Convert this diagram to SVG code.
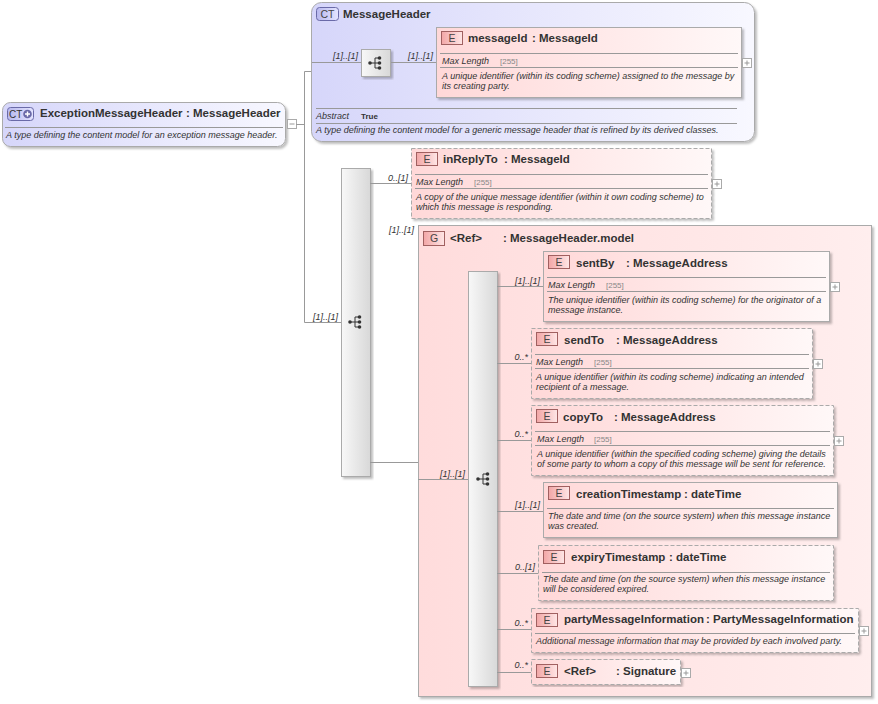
<svg xmlns="http://www.w3.org/2000/svg" width="878" height="704" viewBox="0 0 878 704">
<defs>
<linearGradient id="gCT" x1="0" y1="0" x2="1" y2="0"><stop offset="0" stop-color="#d6d6fa"/><stop offset="1" stop-color="#f8f8ff"/></linearGradient>
<linearGradient id="gEl" x1="0" y1="0" x2="1" y2="0"><stop offset="0" stop-color="#ffd8d8"/><stop offset="1" stop-color="#fff8f8"/></linearGradient>
<linearGradient id="gGrp" x1="0" y1="0" x2="1" y2="0"><stop offset="0" stop-color="#ffdcdc"/><stop offset="1" stop-color="#ffeeee"/></linearGradient>
<linearGradient id="gSeq" x1="0" y1="0" x2="1" y2="0"><stop offset="0" stop-color="#f8f8f8"/><stop offset="1" stop-color="#d8d8d8"/></linearGradient>
<linearGradient id="gEb" x1="0" y1="0" x2="1" y2="0"><stop offset="0" stop-color="#f2a6a6"/><stop offset="1" stop-color="#ffe6e6"/></linearGradient>
<linearGradient id="gCb" x1="0" y1="0" x2="1" y2="0"><stop offset="0" stop-color="#b8b8ee"/><stop offset="1" stop-color="#e4e4ff"/></linearGradient>
<filter id="sh" x="-5%" y="-5%" width="115%" height="115%"><feDropShadow dx="2" dy="2" stdDeviation="1" flood-color="#000" flood-opacity="0.25"/></filter>
<g id="seqIcon" fill="#333" stroke="#333" stroke-width="1">
<line x1="-6" y1="0" x2="-1" y2="0"/><line x1="-1" y1="-5" x2="-1" y2="5"/>
<line x1="-1" y1="-5" x2="3" y2="-5"/><line x1="-1" y1="5" x2="3" y2="5"/><line x1="-1" y1="0" x2="3" y2="0"/>
<circle cx="-6" cy="0" r="1.8" stroke="none"/><circle cx="3.5" cy="-5" r="1.8" stroke="none"/><circle cx="3.5" cy="0" r="1.8" stroke="none"/><circle cx="3.5" cy="5" r="1.8" stroke="none"/>
</g>
<g id="plus"><rect x="0.5" y="0.5" width="9" height="9" fill="#fff" stroke="#aaa"/><path d="M2.5 5H7.5M5 2.5V7.5" stroke="#999" fill="none"/></g>
<g id="eb"><rect x="0.5" y="0.5" width="21" height="13" fill="url(#gEb)" stroke="#a06060"/><text x="11" y="11" class="bt">E</text></g>
</defs>
<style>
text{font-family:"Liberation Sans",Arial,sans-serif;fill:#333}
.t{font-size:11.5px;font-weight:bold}
.bt{font-size:10.5px;text-anchor:middle;fill:#444}
.d{font-size:9px;font-style:italic}
.l{font-size:9px;font-style:italic;text-anchor:end}
.g{font-size:8px;fill:#888}
.ab{font-size:8px;font-weight:bold}
.el{fill:url(#gEl);stroke:#aaa;filter:url(#sh)}
.dash{stroke-dasharray:4 2}
.sep{stroke:#999;fill:none}
.seq{fill:url(#gSeq);stroke:#aaa;filter:url(#sh)}
.con{stroke:#999;fill:none}
</style>

<g id="ExceptionMessageHeader">
<rect x="2.5" y="102.5" width="283" height="44" rx="8" fill="url(#gCT)" stroke="#aaa" filter="url(#sh)"/>
<rect x="7.5" y="107.5" width="26" height="13" rx="3" fill="url(#gCb)" stroke="#6a6aa8"/>
<text x="9" y="118" style="font-size:10px;fill:#333">CT</text>
<circle cx="27.5" cy="114" r="4.3" fill="#6a6aa8"/>
<path d="M25 114H30M27.5 111.5V116.5" stroke="#fff" stroke-width="1.4"/>
<text class="t" x="40" y="117">ExceptionMessageHeader</text>
<text class="t" x="186" y="117">: MessageHeader</text>
<line class="sep" x1="5" y1="127.5" x2="283" y2="127.5"/>
<text class="d" x="6" y="138">A type defining the content model for an exception message header.</text>
<rect x="287.5" y="119.5" width="9" height="9" fill="#fff" stroke="#aaa"/>
<path d="M289.5 124H294.5" stroke="#999"/>
</g>

<g id="MessageHeader">
<rect x="311.5" y="2.5" width="443" height="139" rx="10" fill="url(#gCT)" stroke="#aaa" filter="url(#sh)"/>
<rect x="316.5" y="7.5" width="22" height="13" rx="3" fill="url(#gCb)" stroke="#6a6aa8"/>
<text x="327.5" y="18" class="bt">CT</text>
<text class="t" x="343" y="18">MessageHeader</text>
<rect class="seq" x="361.5" y="49.5" width="29" height="27"/>
<use href="#seqIcon" x="376" y="63"/>
<line class="sep" x1="316" y1="108.5" x2="737" y2="108.5"/>
<text class="d" x="316" y="119">Abstract</text>
<text class="ab" x="361" y="119">True</text>
<line class="sep" x1="316" y1="123.5" x2="737" y2="123.5"/>
<text class="d" x="316" y="133">A type defining the content model for a generic message header that is refined by its derived classes.</text>
</g>

<g id="messageId">
<rect class="el" x="436.5" y="27.5" width="305" height="70"/>
<use href="#eb" x="441" y="31"/>
<text class="t" x="468" y="42">messageId</text><text class="t" x="532" y="42">: MessageId</text>
<line class="sep" x1="440" y1="53.5" x2="738" y2="53.5"/>
<text class="d" x="442" y="64">Max Length</text><text class="g" x="500" y="64">[255]</text>
<line class="sep" x1="440" y1="67.5" x2="738" y2="67.5"/>
<text class="d" x="442" y="79">A unique identifier (within its coding scheme) assigned to the message by</text>
<text class="d" x="442" y="89">its creating party.</text>
<use href="#plus" x="742" y="58"/>
</g>

<g id="seqOuter">
<rect class="seq" x="341.5" y="168.5" width="29" height="308"/>
<use href="#seqIcon" x="356" y="322"/>
</g>

<g id="inReplyTo">
<rect class="el dash" x="411.5" y="148.5" width="300" height="70"/>
<use href="#eb" x="416" y="152"/>
<text class="t" x="443" y="163">inReplyTo</text><text class="t" x="504" y="163">: MessageId</text>
<line class="sep" x1="415" y1="174.5" x2="708" y2="174.5"/>
<text class="d" x="416" y="185">Max Length</text><text class="g" x="474" y="185">[255]</text>
<line class="sep" x1="415" y1="188.5" x2="708" y2="188.5"/>
<text class="d" x="416" y="200">A copy of the unique message identifier (within it own coding scheme) to</text>
<text class="d" x="416" y="210">which this message is responding.</text>
<use href="#plus" x="712" y="179"/>
</g>

<g id="MessageHeader.model">
<rect x="418.5" y="225.5" width="453" height="471" fill="url(#gGrp)" stroke="#aaa" filter="url(#sh)"/>
<rect x="423.5" y="231.5" width="21" height="14" fill="url(#gEb)" stroke="#a06060"/>
<text x="434" y="242" class="bt">G</text>
<text class="t" x="450" y="242">&lt;Ref&gt;</text><text class="t" x="503" y="242">: MessageHeader.model</text>
<rect class="seq" x="468.5" y="271.5" width="29" height="415"/>
<use href="#seqIcon" x="484" y="479"/>
</g>

<g id="sentBy">
<rect class="el" x="543.5" y="251.5" width="286" height="70"/>
<use href="#eb" x="548" y="255"/>
<text class="t" x="576" y="267">sentBy</text><text class="t" x="626" y="267">: MessageAddress</text>
<line class="sep" x1="547" y1="277.5" x2="826" y2="277.5"/>
<text class="d" x="548" y="288">Max Length</text><text class="g" x="606" y="288">[255]</text>
<line class="sep" x1="547" y1="291.5" x2="826" y2="291.5"/>
<text class="d" x="548" y="303">The unique identifier (within its coding scheme) for the originator of a</text>
<text class="d" x="548" y="313">message instance.</text>
<use href="#plus" x="830" y="282"/>
</g>

<g id="sendTo">
<rect class="el dash" x="531.5" y="328.5" width="281" height="70"/>
<use href="#eb" x="536" y="332"/>
<text class="t" x="564" y="344">sendTo</text><text class="t" x="616" y="344">: MessageAddress</text>
<line class="sep" x1="535" y1="354.5" x2="809" y2="354.5"/>
<text class="d" x="536" y="365">Max Length</text><text class="g" x="594" y="365">[255]</text>
<line class="sep" x1="535" y1="368.5" x2="809" y2="368.5"/>
<text class="d" x="536" y="380">A unique identifier (within its coding scheme) indicating an intended</text>
<text class="d" x="536" y="390">recipient of a message.</text>
<use href="#plus" x="813" y="359"/>
</g>

<g id="copyTo">
<rect class="el dash" x="531.5" y="405.5" width="302" height="70"/>
<use href="#eb" x="536" y="409"/>
<text class="t" x="563" y="421">copyTo</text><text class="t" x="614" y="421">: MessageAddress</text>
<line class="sep" x1="535" y1="431.5" x2="830" y2="431.5"/>
<text class="d" x="537" y="442">Max Length</text><text class="g" x="594" y="442">[255]</text>
<line class="sep" x1="535" y1="445.5" x2="830" y2="445.5"/>
<text class="d" x="537" y="457">A unique identifier (within the specified coding scheme) giving the details</text>
<text class="d" x="537" y="467">of some party to whom a copy of this message will be sent for reference.</text>
<use href="#plus" x="834" y="436"/>
</g>

<g id="creationTimestamp">
<rect class="el" x="543.5" y="482.5" width="294" height="55"/>
<use href="#eb" x="548" y="486"/>
<text class="t" x="576" y="498">creationTimestamp</text><text class="t" x="684" y="498">: dateTime</text>
<line class="sep" x1="547" y1="508.5" x2="834" y2="508.5"/>
<text class="d" x="548" y="519">The date and time (on the source system) when this message instance</text>
<text class="d" x="548" y="529">was created.</text>
</g>

<g id="expiryTimestamp">
<rect class="el dash" x="538.5" y="545.5" width="295" height="55"/>
<use href="#eb" x="543" y="550"/>
<text class="t" x="571" y="561">expiryTimestamp</text><text class="t" x="669" y="561">: dateTime</text>
<line class="sep" x1="542" y1="572.5" x2="830" y2="572.5"/>
<text class="d" x="543" y="582">The date and time (on the source system) when this message instance</text>
<text class="d" x="543" y="592">will be considered expired.</text>
</g>

<g id="partyMessageInformation">
<rect class="el dash" x="531.5" y="608.5" width="327" height="44"/>
<use href="#eb" x="536" y="613"/>
<text class="t" x="564" y="623">partyMessageInformation</text><text class="t" x="706" y="623">: PartyMessageInformation</text>
<line class="sep" x1="535" y1="633.5" x2="855" y2="633.5"/>
<text class="d" x="536" y="644">Additional message information that may be provided by each involved party.</text>
<use href="#plus" x="859" y="626"/>
</g>

<g id="Signature">
<rect class="el dash" x="531.5" y="659.5" width="149" height="25"/>
<use href="#eb" x="536" y="664"/>
<text class="t" x="564" y="675">&lt;Ref&gt;</text><text class="t" x="616" y="675">: Signature</text>
<use href="#plus" x="681" y="668"/>
</g>

<g id="connectors" class="con">
<path d="M296 124.5H304.5M304.5 71.5V322.5M304.5 71.5H311M304.5 322.5H341"/>
<path d="M312 62.5H361M391 62.5H436"/>
<path d="M370 183.5H411M370 462.5H418M418 479.5H468"/>
<path d="M497 286.5H543M497 363.5H531M497 440.5H531M497 511.5H543M497 573.5H538M497 629.5H531M497 672.5H531"/>
</g>

<g id="labels">
<text class="l" x="338" y="320">[1]..[1]</text>
<text class="l" x="358" y="59">[1]..[1]</text>
<text class="l" x="433" y="59">[1]..[1]</text>
<text class="l" x="408" y="181">0..[1]</text>
<text class="l" x="414" y="233">[1]..[1]</text>
<text class="l" x="465" y="477">[1]..[1]</text>
<text class="l" x="540" y="284">[1]..[1]</text>
<text class="l" x="528" y="360">0..*</text>
<text class="l" x="528" y="437">0..*</text>
<text class="l" x="540" y="508">[1]..[1]</text>
<text class="l" x="535" y="570">0..[1]</text>
<text class="l" x="528" y="626">0..*</text>
<text class="l" x="528" y="668">0..*</text>
</g>
</svg>
